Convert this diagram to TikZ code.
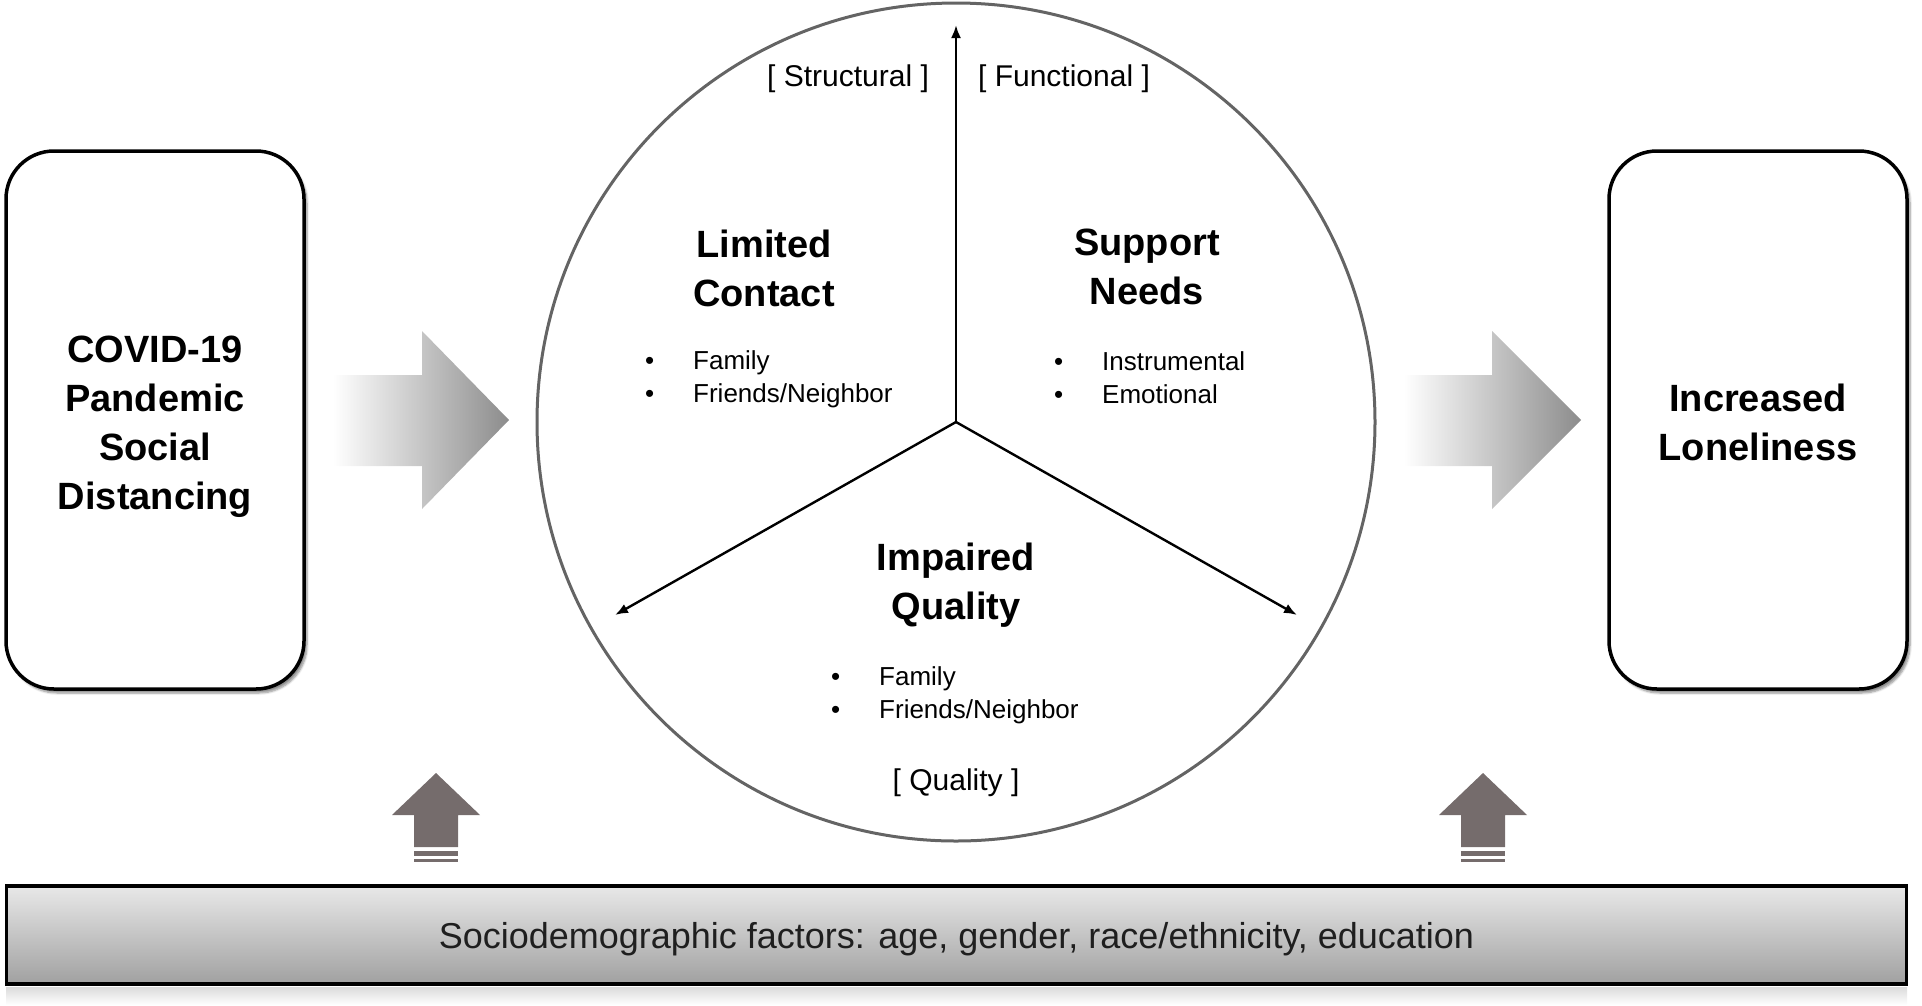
\documentclass[tikz,border=0pt]{standalone}
\usepackage{fontspec}
\setmainfont{Liberation Sans}
\usetikzlibrary{arrows.meta,shadows.blur}
\definecolor{uparrow}{RGB}{117,108,108}
\definecolor{circgray}{RGB}{100,100,100}
\tikzset{
  mainbox/.style={draw=black, line width=3.5pt, rounded corners=48pt, fill=white,
    blur shadow={shadow xshift=3pt, shadow yshift=-4pt, shadow blur steps=6, shadow opacity=45}},
  heading/.style={align=center, font=\bfseries\fontsize{38}{49}\selectfont},
  sidehead/.style={align=center, font=\bfseries\fontsize{38}{49}\selectfont},
  bracket/.style={font=\fontsize{30}{34}\selectfont},
  bullets/.style={anchor=north west, align=left, inner sep=0pt, font=\fontsize{26}{33}\selectfont},
  inarrow/.style={line width=2.4pt, -{Latex[length=13pt,width=10pt]}},
  bigarrow/.style={left color=white, right color=black!45},
}
\newcommand{\bul}{\makebox[48pt][l]{•}}
\begin{document}
\begin{tikzpicture}[x=1pt,y=-1pt]
\useasboundingbox (0,0) rectangle (1922,1005);
% side boxes
\node (leftbox) [mainbox, minimum width=298pt, minimum height=538pt] at (155,420) {};
\node (lefttext) [sidehead] at (155,427) {COVID-19\\Pandemic\\Social\\Distancing};
\node (rightbox) [mainbox, minimum width=298pt, minimum height=538pt] at (1758,420) {};
\node (righttext) [sidehead] at (1758,422) {Increased\\Loneliness};
% gradient arrows
\shade[bigarrow] (333,375) -- (422,375) -- (422,331) -- (509,420) -- (422,509) -- (422,466) -- (333,466) -- cycle;
\shade[bigarrow] (1404,375) -- (1492,375) -- (1492,331) -- (1581,420) -- (1492,509) -- (1492,466) -- (1404,466) -- cycle;
% circle
\node (circ) [circle, draw=circgray, line width=3pt, minimum size=838pt, inner sep=0pt] at (956,422) {};
\coordinate (ctr) at (956,422);
\coordinate (ctop) at (956,25);
\coordinate (cleft) at (615,615);
\coordinate (cright) at (1297,615);
\draw[inarrow] (ctr) -- (ctop);
\draw[inarrow] (ctr) -- (cleft);
\draw[inarrow] (ctr) -- (cright);
% labels
\node (structural) [bracket] at (848,79) {[ Structural ]};
\node (functional) [bracket] at (1064,79) {[ Functional ]};
\node (quality) [bracket] at (956,783) {[ Quality ]};
\node (limited) [heading] at (764,268) {Limited\\Contact};
\node (support) [heading] at (1147,267) {Support\\Needs};
\node (impaired) [heading] at (956,585) {Impaired\\Quality};
\node (lcbul) [bullets] at (645,350) {\bul Family\\\bul Friends/Neighbor};
\node (snbul) [bullets] at (1054,351) {\bul Instrumental\\\bul Emotional};
\node (iqbul) [bullets] at (831,666) {\bul Family\\\bul Friends/Neighbor};
% up arrows
\foreach \cx/\nm in {436/upl, 1483/upr}{
  \fill[uparrow] (\cx,773) -- (\cx+44,815) -- (\cx+22,815) -- (\cx+22,847) -- (\cx-22,847) -- (\cx-22,815) -- (\cx-44,815) -- cycle;
  \fill[uparrow] (\cx-22,851) rectangle (\cx+22,856);
  \fill[uparrow] (\cx-22,859) rectangle (\cx+22,862);
}
% bottom bar reflection
\shade[top color=black!14, bottom color=white] (6,987) rectangle (1907,1005);
% bottom bar
\node (bar) [draw=black, line width=3.5pt, top color=black!9, bottom color=black!37, minimum width=1900pt, minimum height=98pt, inner sep=0pt] at (956.5,935) {};
\node (bartext) [font=\fontsize{36}{42}\selectfont, text=black!88] at (956.5,939) {Sociodemographic factors: age, gender, race/ethnicity, education};
\end{tikzpicture}
\end{document}
